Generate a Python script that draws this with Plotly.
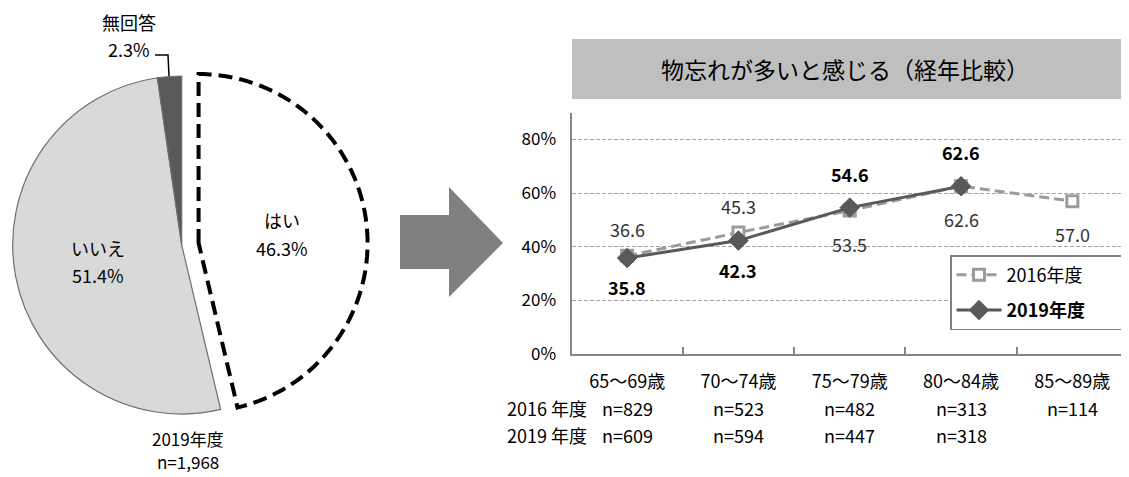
import math
import plotly.graph_objects as go

# page has an 8px body margin: figure is sized/offset so it fills the window
OX, OY = 8, 8
W, H = 1129 - OX, 477 - OY
FONT = "Noto Sans CJK JP"

# ---------------- data ----------------
pie_labels = ["はい", "いいえ", "無回答"]
pie_values = [46.3, 51.4, 2.3]
pie_colors = ["#ffffff", "#d9d9d9", "#595959"]
pie_caption = ["2019年度", "n=1,968"]

age_groups = ["65～69歳", "70～74歳", "75～79歳", "80～84歳", "85～89歳"]
series_2016 = [36.6, 45.3, 53.5, 62.6, 57.0]
series_2019 = [35.8, 42.3, 54.6, 62.6]
n_2016 = ["n=829", "n=523", "n=482", "n=313", "n=114"]
n_2019 = ["n=609", "n=594", "n=447", "n=318"]
y_ticks = [0, 20, 40, 60, 80]
y_tick_text = ["0%", "20%", "40%", "60%", "80%"]
chart_title = "物忘れが多いと感じる（経年比較）"
series_names = ["2016年度", "2019年度"]
row_labels = ["2016 年度", "2019 年度"]

# label placement (style, not data)
pos_2016 = ["above", "above", "below", "below", "below"]
pos_2019 = ["below", "below", "above", "above"]


def px(x):
    return (x - OX) / W


def py(y):
    return 1 - (y - OY) / H


# ---------------- pie geometry (reference pixel frame) ----------------
PCX, PCY, PR = 181.7, 245.0, 169.0
PULL_PX = 17.0
dom_x = [px(PCX - PR), px(PCX + PR)]
dom_y = [py(PCY + PR + 6), py(PCY - PR - 6)]

total = sum(pie_values)
frac_yes = pie_values[0] / total
mid = math.pi * frac_yes
pcx = PCX + PULL_PX * math.sin(mid)
pcy = PCY - PULL_PX * math.cos(mid)
pts = [(pcx, pcy)]
N = 90
for i in range(N + 1):
    t = 2 * math.pi * frac_yes * i / N
    pts.append((pcx + PR * math.sin(t), pcy - PR * math.cos(t)))
path = "M " + " L ".join(f"{px(a):.5f},{py(b):.5f}" for a, b in pts) + " Z"

fig = go.Figure()

fig.add_trace(go.Pie(
    labels=pie_labels, values=pie_values, sort=False, direction="clockwise",
    rotation=0, textinfo="none", hoverinfo="label+percent",
    marker=dict(colors=pie_colors, line=dict(color=["#ffffff", "#6e6e6e", "#6e6e6e"], width=[0, 1.2, 1.2])),
    domain=dict(x=dom_x, y=dom_y), showlegend=False,
))

pad = "\u00a0" * 9
fig.add_trace(go.Scatter(
    x=age_groups, y=series_2016, mode="lines+markers", name=series_names[0] + pad,
    legendgroup="a",
    line=dict(color="#9b9b9b", width=3, dash="10px,5px"),
    marker=dict(symbol="square", size=11, color="#ffffff", line=dict(color="#9b9b9b", width=3)),
))
fig.add_trace(go.Scatter(
    x=age_groups[:len(series_2019)], y=series_2019, mode="lines+markers",
    name="<b>" + series_names[1] + "</b>" + pad, legendgroup="b",
    line=dict(color="#595959", width=3),
    marker=dict(symbol="diamond", size=15, color="#595959", line=dict(color="#595959", width=1)),
))

ann = []


def add_text(x, y, text, xref="paper", yref="paper", xanchor="center", size=18, color="#000000", **kw):
    ann.append(dict(x=x, y=y, xref=xref, yref=yref, text=text, showarrow=False,
                    xanchor=xanchor, yanchor="middle",
                    font=dict(family=FONT, size=size, color=color), **kw))


# data labels
for xs, vals, poss, bold, col, up, dn in [
    (age_groups, series_2016, pos_2016, False, "#333333", 27, 33),
    (age_groups, series_2019, pos_2019, True, "#000000", 34, 29),
]:
    for c, v, p in zip(xs, vals, poss):
        t = f"{v:.1f}"
        if bold:
            t = "<b>" + t + "</b>"
        add_text(c, v, t, xref="x", yref="y", color=col, yshift=up if p == "above" else -dn)

# n rows
for row, ys in [(n_2016, 408), (n_2019, 435)]:
    for c, t in zip(age_groups, row):
        add_text(c, py(ys), t, xref="x")
for t, ys in zip(row_labels, [408, 435]):
    add_text(px(589), py(ys), t, xanchor="right")

# title
add_text(px(845), py(69), chart_title, size=23)

# pie labels
pie_text_pos = [(282, 220, 248), (98, 248, 275), (129, 22, 49)]
for lab, val, (x0, y1, y2) in zip(pie_labels, pie_values, pie_text_pos):
    add_text(px(x0), py(y1), lab)
    add_text(px(x0), py(y2), f"{val:.1f}%")
for t, ys in zip(pie_caption, [438, 461]):
    add_text(px(188), py(ys), t, size=17)

arrow_pts = [(400, 215), (449, 215), (449, 187), (503, 243), (449, 297), (449, 269), (400, 269)]
arrow_path = "M " + " L ".join(f"{px(a):.5f},{py(b):.5f}" for a, b in arrow_pts) + " Z"
leader = [(155, 55), (168, 55), (169, 76)]
leader_path = "M " + " L ".join(f"{px(a):.5f},{py(b):.5f}" for a, b in leader)

shapes = [
    dict(type="rect", xref="paper", yref="paper", x0=px(572), x1=1, y0=py(99), y1=py(39),
         fillcolor="#bfbfbf", line=dict(width=0), layer="below"),
    dict(type="path", xref="paper", yref="paper", path=arrow_path, fillcolor="#808080",
         line=dict(width=0)),
    dict(type="path", xref="paper", yref="paper", path=path,
         line=dict(color="#000000", width=4, dash="14px,7px")),
    dict(type="path", xref="paper", yref="paper", path=leader_path,
         line=dict(color="#000000", width=1.5)),
]

fig.update_layout(
    width=W, height=H, autosize=False,
    margin=dict(l=0, r=0, t=0, b=0, pad=0, autoexpand=False),
    paper_bgcolor="#ffffff", plot_bgcolor="rgba(0,0,0,0)",
    font=dict(family=FONT, size=18, color="#000000"),
    xaxis=dict(domain=[px(571.5), px(1128)], type="category", categoryorder="array",
               categoryarray=age_groups, range=[-0.5, 4.5], showline=True,
               linecolor="#868686", linewidth=2, ticks="inside", tickson="boundaries",
               ticklen=7, tickcolor="#868686", tickwidth=1.5, showgrid=False,
               tickfont=dict(family=FONT, size=18, color="#000000"), ticklabelstandoff=10,
               automargin=False, fixedrange=True),
    yaxis=dict(domain=[py(354), py(112.7)], range=[0, 90], tickvals=y_ticks, ticktext=y_tick_text,
               showline=True, linecolor="#868686", linewidth=2, showgrid=True,
               gridcolor="#a6a6a6", gridwidth=1, griddash="4px,2px", zeroline=False,
               ticks="", tickfont=dict(family=FONT, size=17, color="#000000"),
               ticklabelstandoff=10, automargin=False, fixedrange=True),
    legend=dict(x=px(950), y=py(255), xanchor="left", yanchor="top",
                bordercolor="#808080", borderwidth=1.5, bgcolor="#ffffff",
                font=dict(family=FONT, size=18, color="#000000"),
                tracegroupgap=9, itemwidth=45),
    annotations=ann,
    shapes=shapes,
)

fig.write_html("out.html")
